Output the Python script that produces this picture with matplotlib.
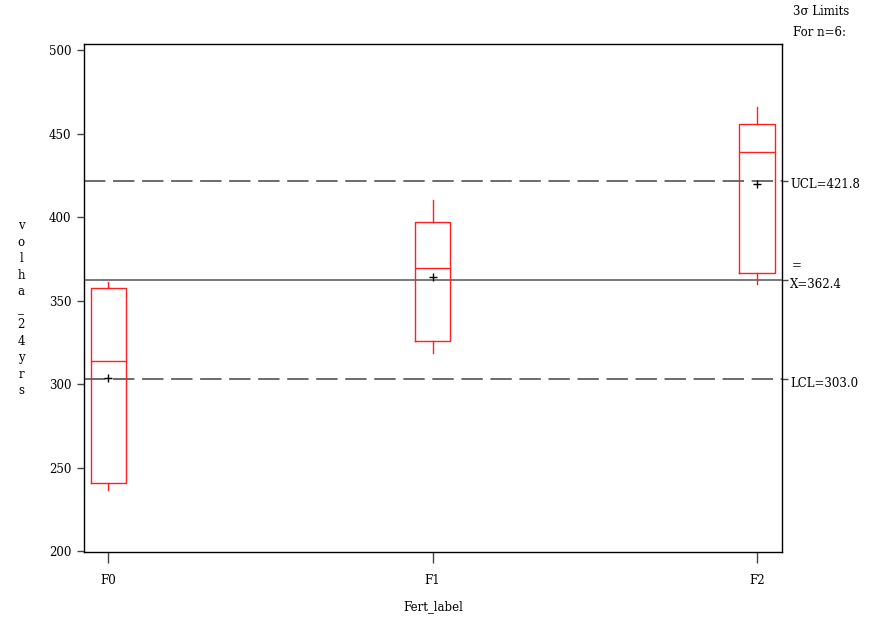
import numpy as np
import matplotlib.pyplot as plt
import matplotlib.transforms as mtransforms

plt.rcParams['font.family'] = ['DejaVu Serif', 'Liberation Serif']
plt.rcParams['font.size'] = 8.5

groups = ['F0', 'F1', 'F2']
whis_lo = [236.5, 318.5, 360.0]
q1 = [241.0, 326.0, 366.5]
med = [314.0, 369.5, 439.0]
q3 = [357.5, 397.0, 456.0]
whis_hi = [361.0, 410.0, 466.0]
means = [303.6, 364.0, 419.6]

ucl = 421.8
center = 362.4
lcl = 303.0
yticks = [200, 250, 300, 350, 400, 450, 500]

fig = plt.figure(figsize=(8.8, 6.2), dpi=100)
ax = fig.add_axes([0.0955, 0.1097, 0.7931, 0.8193])

stats = []
for i in range(len(groups)):
    stats.append(dict(med=med[i], q1=q1[i], q3=q3[i], whislo=whis_lo[i],
                      whishi=whis_hi[i], mean=means[i], fliers=[], label=groups[i]))

red = '#ff2020'
ax.bxp(stats, positions=range(len(groups)), widths=0.108, showcaps=False,
       showmeans=True, showfliers=False,
       boxprops=dict(color=red, linewidth=1),
       whiskerprops=dict(color=red, linewidth=1),
       medianprops=dict(color=red, linewidth=1),
       meanprops=dict(marker='+', markeredgecolor='black', markersize=6,
                      markeredgewidth=1))

ax.axhline(ucl, color='#444444', linestyle=(0, (14, 5)), linewidth=1.1, zorder=1)
ax.axhline(lcl, color='#444444', linestyle=(0, (14, 5)), linewidth=1.1, zorder=1)
ax.axhline(center, color='#555555', linewidth=1.1, zorder=1)

ax.set_xlim(-0.074, 2.077)
ax.set_ylim(199.5, 503.6)
ax.set_yticks(yticks)
ax.set_xticks(range(len(groups)))
ax.set_xticklabels(groups)
ax.tick_params(axis='y', direction='out', length=5, width=1, colors='#444444',
               labelcolor='black', pad=4)
ax.tick_params(axis='x', direction='out', length=8, width=1, colors='#444444',
               labelcolor='black', pad=8)
for s in ax.spines.values():
    s.set_color('#333333')
    s.set_linewidth(1)

ax.set_xlabel('Fert_label', labelpad=9)
ax.text(-0.09, 0.48, '\n'.join('volha_24yrs'), transform=ax.transAxes,
        ha='center', va='center', linespacing=1.35)

# right-side control limit ticks and labels
ax2 = ax.twinx()
ax2.set_ylim(ax.get_ylim())
ax2.set_yticks([ucl, center, lcl])
ax2.set_yticklabels([])
ax2.tick_params(axis='y', direction='out', length=4, width=1, colors='#444444')

trans = mtransforms.blended_transform_factory(ax.transAxes, ax.transData)
ax.text(1.012, ucl - 2.5, 'UCL=%.1f' % ucl, transform=trans, va='center', ha='left')
ax.text(1.012, center - 2.5, 'X=%.1f' % center, transform=trans, va='center', ha='left')
ax.text(1.014, center + 8.5, '=', transform=trans, va='center', ha='left')
ax.text(1.012, lcl - 2.5, 'LCL=%.1f' % lcl, transform=trans, va='center', ha='left')

fig.text(0.901, 0.981, '3\u03c3 Limits', ha='left', va='center')
fig.text(0.901, 0.948, 'For n=6:', ha='left', va='center')

fig.savefig('out.png', dpi=100)
